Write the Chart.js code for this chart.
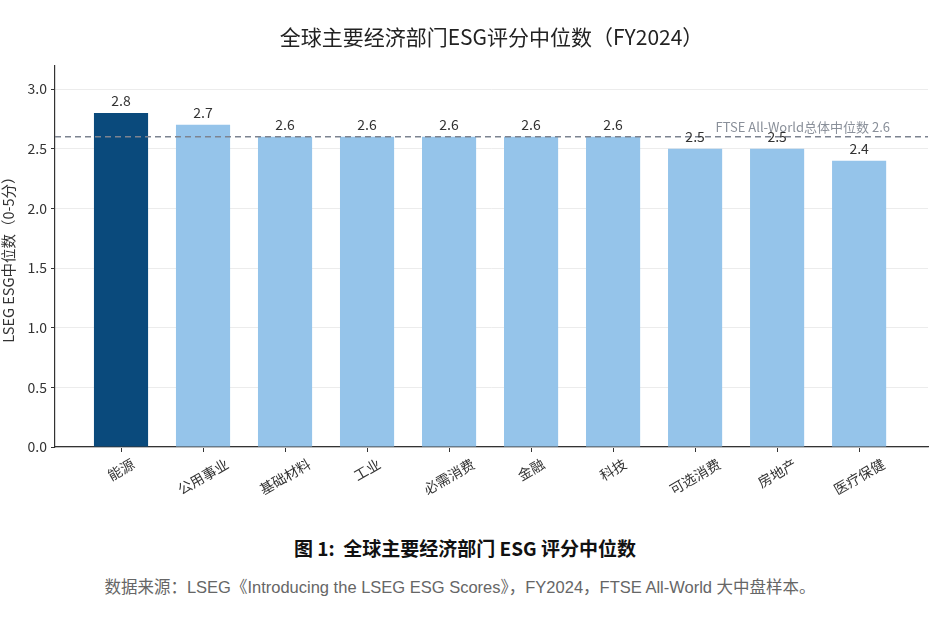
<!DOCTYPE html>
<html>
<head>
<meta charset="utf-8">
<script src="https://cdn.jsdelivr.net/npm/chart.js@4.4.1/dist/chart.umd.min.js"></script>
<style>
  body { margin: 0; background: #fff; font-family: "Noto Sans CJK SC", sans-serif; }
  #wrap { position: relative; width: 938px; height: 520px; }
  .caption { width: 930px; text-align: center; font-size: 19px; font-weight: bold; color: #111; margin-top: 14px; }
  .source { width: 920px; text-align: center; font-size: 16.5px; color: #666; margin-top: 13px;
            font-family: "Liberation Sans", "Noto Sans CJK SC", sans-serif; }
</style>
</head>
<body>
<div id="wrap"><canvas id="mychart"></canvas></div>
<div class="caption">图 1:&nbsp; 全球主要经济部门 ESG 评分中位数</div>
<div class="source">数据来源：LSEG《Introducing the LSEG ESG Scores》，FY2024，FTSE All-World 大中盘样本。</div>
<script>
// data
const categories = ['能源', '公用事业', '基础材料', '工业', '必需消费', '金融', '科技', '可选消费', '房地产', '医疗保健'];
const scores = [2.8, 2.7, 2.6, 2.6, 2.6, 2.6, 2.6, 2.5, 2.5, 2.4];
const overallMedian = 2.6;
const overallLabel = 'FTSE All-World总体中位数 2.6';

const darkBlue = '#0a4a7c';
const lightBlue = '#95c4ea';
const font = '"Noto Sans CJK SC", sans-serif';

// bar value labels, reference line, centred rotated x labels
const extras = {
    id: 'extras',
    afterDatasetsDraw(chart) {
        const c = chart.ctx;
        const area = chart.chartArea;
        const y = chart.scales.y.getPixelForValue(overallMedian);
        c.save();
        c.strokeStyle = '#7d8390';
        c.lineWidth = 1.6;
        c.setLineDash([6, 4]);
        c.beginPath();
        c.moveTo(area.left, y);
        c.lineTo(area.right, y);
        c.stroke();
        c.setLineDash([]);
        c.font = '13px ' + font;
        c.fillStyle = '#8a909a';
        c.textAlign = 'right';
        c.textBaseline = 'bottom';
        c.fillText(overallLabel, area.right - 38, y - 3);

        c.font = '14px ' + font;
        c.fillStyle = '#333';
        c.textAlign = 'center';
        c.textBaseline = 'bottom';
        chart.getDatasetMeta(0).data.forEach((bar, i) => {
            c.fillText(scores[i].toFixed(1), bar.x, bar.y - 5);
        });

        // x labels, rotated 30 deg and centred under the tick
        const xs = chart.scales.x;
        const size = 14;
        const ang = Math.PI / 6;
        c.font = size + 'px ' + font;
        c.textBaseline = 'middle';
        categories.forEach((lab, i) => {
            const w = c.measureText(lab).width;
            const h = size * 1.1;
            const boxH = w * Math.sin(ang) + h * Math.cos(ang);
            const px = xs.getPixelForValue(i);
            const py = area.bottom + 9 + boxH / 2;
            c.save();
            c.translate(px, py);
            c.rotate(-ang);
            c.fillText(lab, 0, 0);
            c.restore();
        });
        c.restore();
    }
};

const ctx = document.getElementById('mychart');

const mychart = new Chart(ctx, {
    type: 'bar',
    data: {
        datasets: [{
            data: scores.map((v, i) => ({ x: i, y: v })),
            backgroundColor: scores.map((v, i) => i === 0 ? darkBlue : lightBlue),
            borderWidth: 0,
            barPercentage: 0.66,
            categoryPercentage: 1
        }]
    },
    options: {
        responsive: true,
        maintainAspectRatio: false,
        animation: false,
        layout: { padding: { left: 0, right: 10, bottom: 0 } },
        plugins: {
            legend: { display: false },
            tooltip: { enabled: false },
            title: {
                display: true,
                fullSize: false,
                text: '全球主要经济部门ESG评分中位数（FY2024）',
                color: '#222',
                font: { family: font, size: 21, weight: 'normal' },
                padding: { top: 24, bottom: 16 }
            }
        },
        scales: {
            x: {
                type: 'linear',
                offset: false,
                min: -0.805,
                max: 9.84,
                afterBuildTicks(scale) {
                    scale.ticks = categories.map((c, i) => ({ value: i }));
                },
                afterFit(scale) { scale.height = 73; },
                ticks: { display: false },
                grid: { offset: false, drawOnChartArea: false, drawTicks: true, tickLength: 5, color: '#333' },
                border: { display: true, color: '#333', width: 1.2 }
            },
            y: {
                min: 0,
                max: 3.2,
                afterFit(scale) { scale.width = 55; },
                ticks: {
                    stepSize: 0.5,
                    includeBounds: false,
                    color: '#333',
                    font: { family: font, size: 14 },
                    padding: 4,
                    callback: (v) => v.toFixed(1)
                },
                grid: { color: '#ececec', tickColor: '#333', tickLength: 4 },
                border: { display: true, color: '#333', width: 1.2 },
                title: {
                    display: true,
                    text: 'LSEG ESG中位数（0-5分）',
                    color: '#333',
                    font: { family: font, size: 14.5 },
                    padding: { top: 0, bottom: 0 }
                }
            }
        }
    },
    plugins: [extras]
});
</script>
</body>
</html>
